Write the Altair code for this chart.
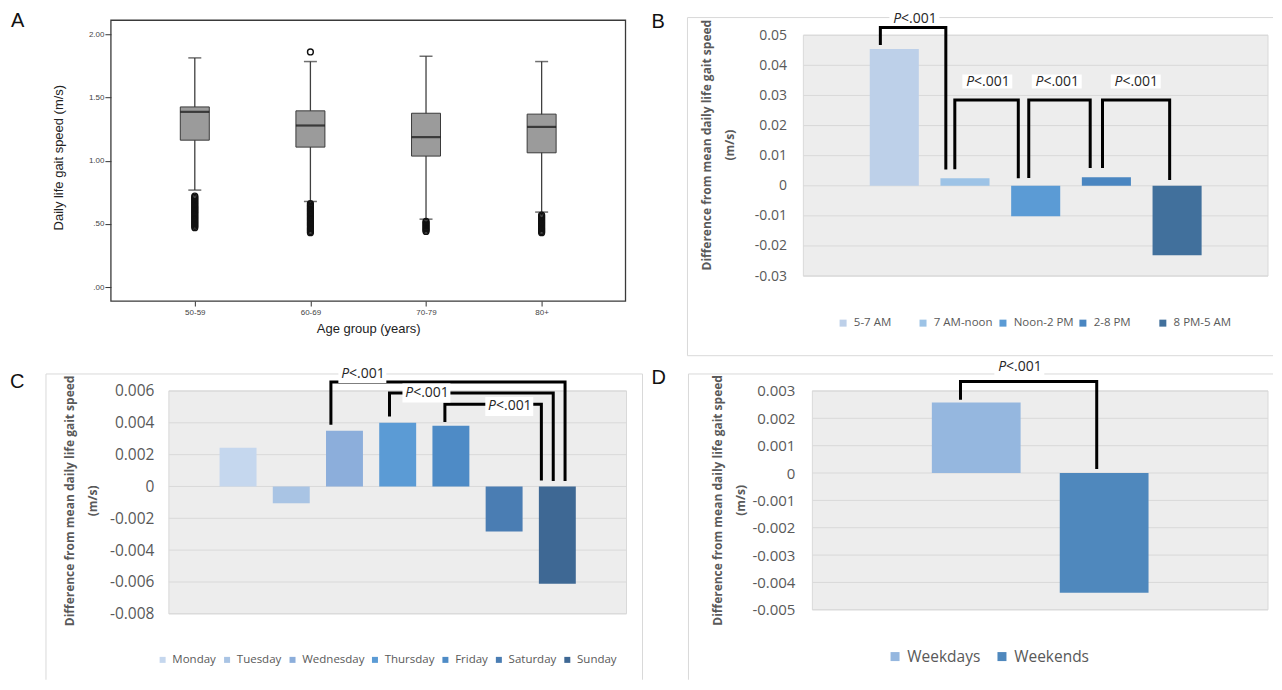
import altair as alt
import pandas as pd

FONT = "Open Sans"
FONT_A = "Liberation Sans"
GRAY_TXT = "#595959"
GRID = "#d9d9d9"
PLOT_FILL = "#ededed"
BORDER = "#d9d9d9"
HALF = 0.347

# ---------------- Panel A: gait speed by age group ----------------
age_groups = ["50-59", "60-69", "70-79", "80+"]
whisker_low = [0.767, 0.677, 0.537, 0.593]
box_q1 = [1.162, 1.107, 1.036, 1.062]
box_median = [1.386, 1.278, 1.186, 1.267]
box_q3 = [1.425, 1.394, 1.375, 1.368]
whisker_high = [1.813, 1.784, 1.826, 1.784]
outliers_50_59 = [0.72, 0.71, 0.70, 0.69, 0.68, 0.67, 0.66, 0.65, 0.64, 0.63, 0.62, 0.61, 0.60,
                  0.59, 0.58, 0.57, 0.56, 0.55, 0.54, 0.53, 0.52, 0.51, 0.50, 0.49, 0.48, 0.47]
outliers_60_69 = [1.86, 0.66, 0.65, 0.64, 0.63, 0.62, 0.61, 0.60, 0.59, 0.58, 0.57, 0.56, 0.55,
                  0.54, 0.53, 0.52, 0.51, 0.50, 0.49, 0.48, 0.47, 0.46, 0.45, 0.44, 0.43]
outliers_70_79 = [0.52, 0.51, 0.50, 0.49, 0.48, 0.47, 0.46, 0.45, 0.44]
outliers_80_plus = [0.57, 0.56, 0.55, 0.54, 0.53, 0.52, 0.51, 0.50, 0.49, 0.48, 0.47, 0.46,
                    0.45, 0.44, 0.43]
a_ticks = [0.0, 0.5, 1.0, 1.5, 2.0]

# ---------------- Panel B: time of day ----------------
time_periods = ["5-7 AM", "7 AM-noon", "Noon-2 PM", "2-8 PM", "8 PM-5 AM"]
time_diff = [0.0454, 0.0025, -0.0101, 0.0028, -0.0231]
time_colors = ["#bdd0e9", "#9dc3e6", "#5b9bd5", "#4a86c1", "#41709c"]
b_ticks = [0.05, 0.04, 0.03, 0.02, 0.01, 0.0, -0.01, -0.02, -0.03]

# ---------------- Panel C: day of week ----------------
week_days = ["Monday", "Tuesday", "Wednesday", "Thursday", "Friday", "Saturday", "Sunday"]
day_diff = [0.00243, -0.00105, 0.0035, 0.0040, 0.00382, -0.00283, -0.00612]
day_colors = ["#c5d7ee", "#a9c4e4", "#8caedb", "#5b9bd5", "#4e8bc6", "#4a7db3", "#3e6894"]
c_ticks = [0.006, 0.004, 0.002, 0.0, -0.002, -0.004, -0.006, -0.008]

# ---------------- Panel D: weekdays vs weekends ----------------
day_types = ["Weekdays", "Weekends"]
type_diff = [0.00258, -0.00438]
type_colors = ["#95b7df", "#4f88bd"]
d_ticks = [0.003, 0.002, 0.001, 0.0, -0.001, -0.002, -0.003, -0.004, -0.005]

# significance brackets: (from idx, leg offset, leg bottom, to idx, leg offset, leg bottom, level)
b_brackets = [(0, -0.197, 0.0468, 1, -0.271, 0.0054, 0.0526),
              (1, -0.144, 0.0055, 2, -0.246, 0.0025, 0.0285),
              (2, -0.098, 0.0026, 3, -0.229, 0.0059, 0.0285),
              (3, -0.055, 0.0059, 4, -0.105, 0.0019, 0.0285)]
b_plab_x = [0.284, 1.316, 2.298, 3.415]
b_plab_y = [0.0555, 0.0346, 0.0346, 0.0346]

c_brackets = [(2, -0.255, 0.00388, 6, 0.145, 0.00034, 0.00656),
              (3, -0.154, 0.0044, 6, -0.077, 0.00034, 0.00587),
              (4, -0.113, 0.00405, 6, -0.30, 0.00038, 0.00516)]
c_plab_x = [2.336, 3.540, 5.097]
c_plab_y = [0.00709, 0.00587, 0.00503]

d_brackets = [(0, -0.123, 0.00268, 1, -0.058, 0.00015, 0.00335)]
d_plab_x = [0.337]
d_plab_y = [0.00386]

one = pd.DataFrame({"k": [0]})
Y_TITLE = ["Difference from mean daily life gait speed", "(m/s)"]


def letter_layer(letter, x, y):
    return alt.Chart(one).mark_text(text=letter, font=FONT_A, fontSize=20, align="left",
                                    baseline="alphabetic", color="#111").encode(
        x=alt.value(x), y=alt.value(y))


def border_layers(borders):
    out = []
    for (bx1, by1, bx2, by2) in borders:
        out.append(alt.Chart(one).mark_rule(color=BORDER, strokeWidth=1).encode(
            x=alt.value(bx1), x2=alt.value(bx2), y=alt.value(by1), y2=alt.value(by2)))
    return out


# ======================= Panel A (view 637 x 348, origin at page 8,8) =======================
dfA = pd.DataFrame({"grp": age_groups, "lo": whisker_low, "q1": box_q1, "med": box_median,
                    "q3": box_q3, "hi": whisker_high})
out_rows = []
for g, lst in zip(age_groups, [outliers_50_59, outliers_60_69, outliers_70_79, outliers_80_plus]):
    for v in lst:
        out_rows.append({"grp": g, "v": v})
dfO = pd.DataFrame(out_rows)

xA = alt.Scale(type="point", domain=age_groups, range=[103, 618], padding=0.7255)
yA = alt.Scale(domain=[-0.1107, 2.1107], range=[293, 12], nice=False, zero=False)
xA_axis = alt.Axis(title="Age group (years)", offset=-55, labelFont=FONT_A, labelFontSize=8,
                   labelColor="#444", tickSize=5, tickColor="#333", domain=False, labelAngle=0,
                   labelPadding=2, grid=False, titleFont=FONT_A, titleFontSize=13,
                   titleFontWeight="normal", titleColor="#222", titleX=360.5, titleY=27,
                   titleBaseline="middle", titleAlign="center")
yA_axis = alt.Axis(title="Daily life gait speed (m/s)", values=a_ticks, offset=-103,
                   labelExpr="datum.value < 1 ? '.' + format(datum.value * 100, '02d') : format(datum.value, '.2f')",
                   labelFont=FONT_A, labelFontSize=8, labelColor="#444", tickSize=6, tickColor="#333",
                   domain=False, grid=False, labelPadding=1, titleFont=FONT_A, titleFontSize=13,
                   titleFontWeight="normal", titleColor="#222", titleX=-52.7, titleY=149,
                   titleBaseline="middle", titleAlign="center", titleAngle=-90)

whisk = alt.Chart(dfA).mark_rule(color="#404040", strokeWidth=1.3).encode(
    x=alt.X("grp:N", scale=xA, axis=xA_axis), y=alt.Y("lo:Q", scale=yA, axis=yA_axis), y2="hi:Q")
cap_lo = alt.Chart(dfA).mark_tick(color="#333", thickness=1.5, size=13).encode(
    x=alt.X("grp:N", scale=xA), y=alt.Y("lo:Q", scale=yA))
cap_hi = alt.Chart(dfA).mark_tick(color="#333", thickness=1.5, size=13).encode(
    x=alt.X("grp:N", scale=xA), y=alt.Y("hi:Q", scale=yA))
boxes = alt.Chart(dfA).mark_bar(size=29, color="#9b9b9b", stroke="#3a3a3a", strokeWidth=1).encode(
    x=alt.X("grp:N", scale=xA), y=alt.Y("q3:Q", scale=yA), y2="q1:Q")
meds = alt.Chart(dfA).mark_tick(color="#111", thickness=2.2, size=29).encode(
    x=alt.X("grp:N", scale=xA), y=alt.Y("med:Q", scale=yA))
outs = alt.Chart(dfO).mark_point(shape="circle", filled=False, color="#111", size=34,
                                 strokeWidth=1.4, opacity=1).encode(
    x=alt.X("grp:N", scale=xA), y=alt.Y("v:Q", scale=yA))
frameA = alt.Chart(one).mark_rect(fillOpacity=0, stroke="#3a3a3a", strokeWidth=1.3).encode(
    x=alt.value(103), x2=alt.value(618), y=alt.value(12), y2=alt.value(293))

panelA = alt.layer(whisk, frameA, cap_lo, cap_hi, boxes, meds, outs,
                   letter_layer("A", 3, 19)).properties(
    width=637, height=348, view=alt.ViewBackground(strokeWidth=0))


# ======================= Panels B, C, D =======================
def diff_panel(cats, vals, colors, xdom, xrng, ydom, yrng, yticks, dec, W, H, brackets, plab_x, plab_y,
               box_w, box_h, p_size, label_size, label_pad, title_x, title_y, legend,
               letter, letter_x, letter_y, borders):
    n = len(cats)
    xs = alt.Scale(domain=xdom, range=xrng, nice=False, zero=False)
    ys = alt.Scale(domain=ydom, range=yrng, nice=False, zero=False)
    yaxis = alt.Axis(values=yticks, offset=-xrng[0],
                     labelExpr=f"datum.value == 0 ? '0' : (datum.value < 0 ? '-' : '') + format(abs(datum.value), '.{dec}f')",
                     labelFont=FONT, labelFontSize=label_size, labelColor=GRAY_TXT,
                     labelPadding=label_pad, ticks=False, domain=False, grid=False,
                     title=Y_TITLE, titleFont=FONT, titleFontSize=12, titleFontWeight="bold",
                     titleColor=GRAY_TXT, titleX=title_x, titleY=title_y,
                     titleBaseline="middle", titleAlign="center", titleAngle=-90,
                     titleLineHeight=23)
    layers = []
    # plot-area background, carrying the y axis
    layers.append(alt.Chart(one).mark_rect(fill=PLOT_FILL, stroke=GRID, strokeWidth=1).encode(
        x=alt.X(datum=xdom[0], type="quantitative", scale=xs, axis=None),
        x2=alt.X2(datum=xdom[1]),
        y=alt.Y(datum=ydom[1], type="quantitative", scale=ys, axis=yaxis),
        y2=alt.Y2(datum=ydom[0])))
    # gridlines at the tick values
    layers.append(alt.Chart(pd.DataFrame({"t": yticks})).mark_rule(color=GRID, strokeWidth=1).encode(
        y=alt.Y("t:Q", scale=ys),
        x=alt.X(datum=xdom[0], type="quantitative", scale=xs, axis=None),
        x2=alt.X2(datum=xdom[1])))

    df = pd.DataFrame({"cat": cats, "idx": list(range(n)), "val": vals})
    bars = alt.Chart(df).transform_calculate(
        x0=f"datum.idx - {HALF}", x1=f"datum.idx + {HALF}"
    ).mark_bar().encode(
        x=alt.X("x0:Q", scale=xs, axis=None), x2="x1:Q",
        y=alt.Y("val:Q", scale=ys), y2=alt.datum(0),
        color=alt.Color("cat:N", scale=alt.Scale(domain=cats, range=colors), legend=legend))
    layers.append(bars)
    layers.extend(border_layers(borders))

    rows = []
    for k, (i1, o1, b1, i2, o2, b2, lvl) in enumerate(brackets):
        pts = [(i1 + o1, b1), (i1 + o1, lvl), (i2 + o2, lvl), (i2 + o2, b2)]
        for s, (xx, yy) in enumerate(pts):
            rows.append({"b": k, "s": s, "bx": xx, "by": yy})
    layers.append(alt.Chart(pd.DataFrame(rows)).mark_line(
        color="#000", strokeWidth=3, strokeJoin="miter", strokeCap="butt").encode(
        x=alt.X("bx:Q", scale=xs, axis=None), y=alt.Y("by:Q", scale=ys),
        detail="b:N", order="s:Q"))

    lab = pd.DataFrame({"lx": plab_x, "ly": plab_y})
    enc = dict(x=alt.X("lx:Q", scale=xs, axis=None), y=alt.Y("ly:Q", scale=ys))
    a = box_h / box_w
    path = f"M-1,-{a:.3f}L1,-{a:.3f}L1,{a:.3f}L-1,{a:.3f}Z"
    layers.append(alt.Chart(lab).mark_point(shape=path, filled=True, color="white", opacity=1,
                                            size=box_w ** 2, strokeWidth=0).encode(**enc))
    split = -p_size * 0.95
    layers.append(alt.Chart(lab).mark_text(text="P", fontStyle="italic", font=FONT, fontSize=p_size,
                                           align="right", baseline="middle", dx=split,
                                           color="#262626").encode(**enc))
    layers.append(alt.Chart(lab).mark_text(text="<.001", font=FONT, fontSize=p_size,
                                           align="left", baseline="middle", dx=split,
                                           color="#262626").encode(**enc))
    layers.append(letter_layer(letter, letter_x, letter_y))
    return alt.layer(*layers).properties(
        width=W, height=H, view=alt.ViewBackground(strokeWidth=0))


# Panel B: view 629 x 348 at page (645, 8)
legB = alt.Legend(orient="none", legendX=193, legendY=309, direction="horizontal", title=None,
                  symbolType="square", symbolSize=49, symbolStrokeWidth=0, labelFont=FONT,
                  labelFontSize=11.5, labelColor=GRAY_TXT, labelOffset=5, columnPadding=3,
                  gridAlign="all", padding=0)
panelB = diff_panel(time_periods, time_diff, time_colors, [-1.286, 5.286], [159, 624],
                    [-0.03, 0.05], [268, 27], b_ticks, 2, 629, 348,
                    b_brackets, b_plab_x, b_plab_y, 50, 14, 14, 14, 17,
                    -96.5, 136.5, legB, "B", 7, 19.5,
                    [(43, 9.3, 43, 347.7), (43, 9.3, 629, 9.3), (43, 347.7, 629, 347.7)])

# Panel C: view 637 x 324 at page (8, 356)
legC = alt.Legend(orient="none", legendX=149, legendY=298, direction="horizontal", title=None,
                  symbolType="square", symbolSize=36, symbolStrokeWidth=0, labelFont=FONT,
                  labelFontSize=11.5, labelColor=GRAY_TXT, labelOffset=4, columnPadding=4.5, padding=0)
panelC = diff_panel(week_days, day_diff, day_colors, [-1.30, 7.30], [161, 619],
                    [-0.008, 0.006], [258, 35], c_ticks, 3, 637, 324,
                    c_brackets, c_plab_x, c_plab_y, 48, 19, 14, 15.5, 15,
                    -99.6, 144.5, legC, "C", 2, 32,
                    [(38, 18, 38, 324), (38, 18, 635, 18), (635, 18, 635, 324)])

# Panel D: view 629 x 324 at page (645, 356)
legD = alt.Legend(orient="none", legendX=243, legendY=292.7, direction="horizontal", title=None,
                  symbolType="square", symbolSize=81, symbolStrokeWidth=0, labelFont=FONT,
                  labelFontSize=15.5, labelColor=GRAY_TXT, labelOffset=4.5, columnPadding=13, padding=0)
panelD = diff_panel(day_types, type_diff, type_colors, [-1.281, 2.281], [168, 624],
                    [-0.005, 0.003], [254, 35], d_ticks, 3, 629, 324,
                    d_brackets, d_plab_x, d_plab_y, 50, 16, 14, 15, 17.5,
                    -95.2, 144, legD, "D", 7, 28,
                    [(44, 18, 44, 324), (44, 18, 629, 18)])

chart = alt.concat(panelA, panelB, panelC, panelD, columns=2, spacing=0, bounds="flush",
                   align="all").resolve_scale(color="independent").properties(
    padding=0).configure(background="white")

chart.save("out.html", embed_options={"renderer": "svg", "actions": False})
